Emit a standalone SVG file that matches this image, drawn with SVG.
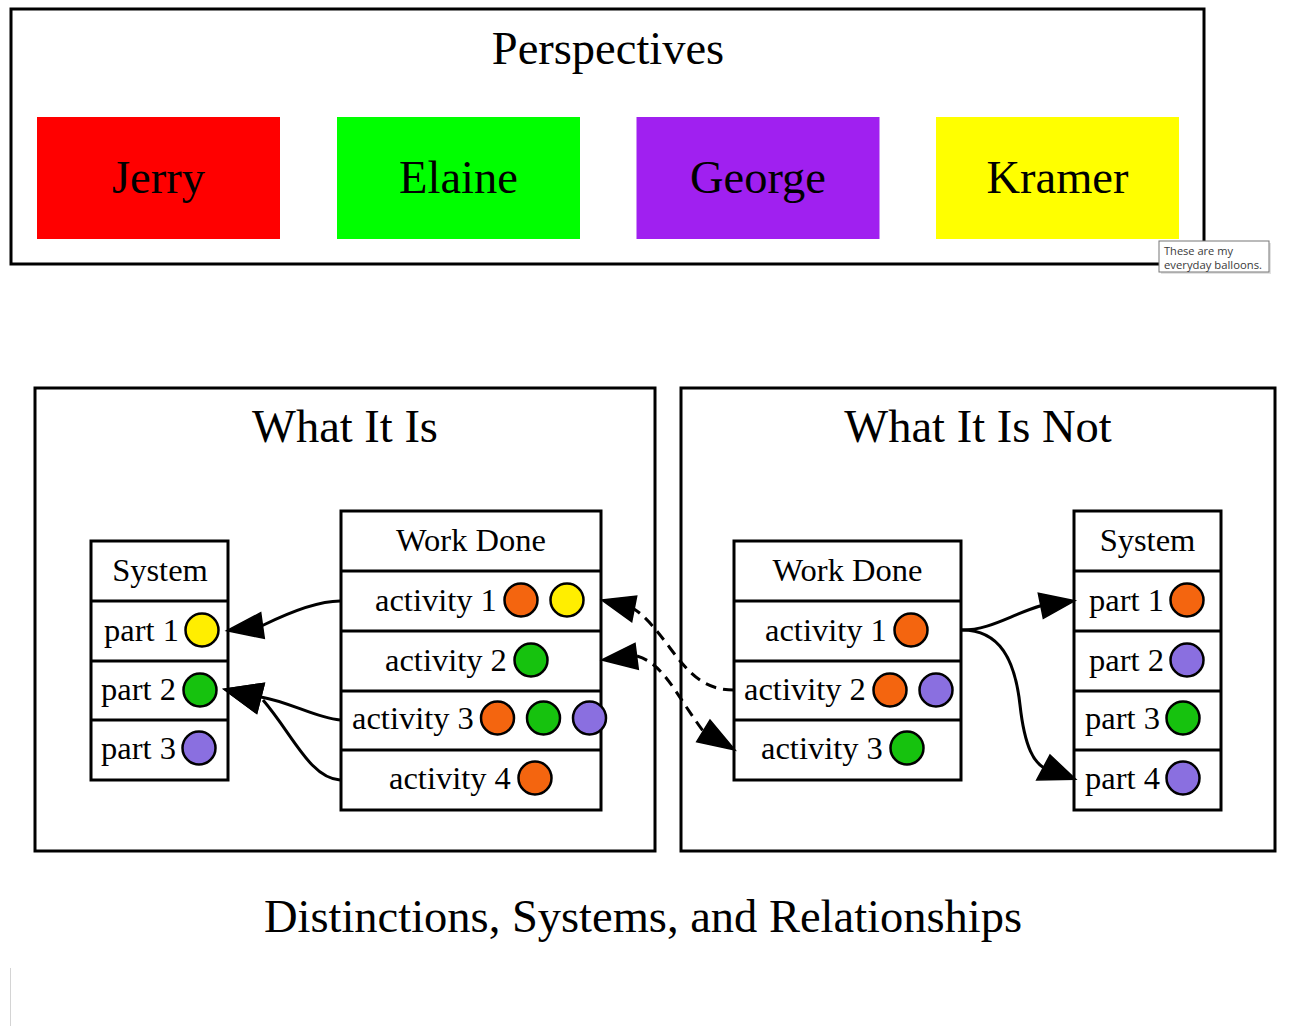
<svg xmlns="http://www.w3.org/2000/svg" width="1312" height="1026" viewBox="0 0 1312 1026">
<style>
.t{font-family:"Liberation Serif","Times New Roman",serif;fill:#000}
.big{font-size:46.5px;text-anchor:middle}
.cell{font-size:32.5px}
.hd{font-size:32.5px;text-anchor:middle}
.cl{fill:none;stroke:#000;stroke-width:3}
.tb{fill:#fff;stroke:#000;stroke-width:3}
.dv{stroke:#000;stroke-width:3}
.dot{stroke:#000;stroke-width:2.5}
.o{fill:#F4650F}.g{fill:#16C20E}.p{fill:#8A6FE0}.y{fill:#FFEE00}
.e{fill:none;stroke:#000;stroke-width:3}
.d{stroke-dasharray:11,7}
.ah{fill:#000;stroke:#000;stroke-width:1.5;stroke-linejoin:miter}
.tip{font-family:"Open Sans","Noto Sans","DejaVu Sans",sans-serif;font-size:10.5px;fill:#3a3a3a}
</style>
<rect width="1312" height="1026" fill="#fff"/>

<g id="cluster_perspectives">
<rect class="cl" x="11" y="9" width="1193" height="255"/>
<text class="t big" x="608" y="64">Perspectives</text>
</g>
<g id="jerry"><rect x="37" y="117" width="243" height="122" fill="#FF0000"/><text class="t big" x="158.5" y="193">Jerry</text></g>
<g id="elaine"><rect x="337" y="117" width="243" height="122" fill="#00FF00"/><text class="t big" x="458.5" y="193">Elaine</text></g>
<g id="george"><rect x="636.5" y="117" width="243" height="122" fill="#A020F0"/><text class="t big" x="758" y="193">George</text></g>
<g id="kramer"><rect x="936" y="117" width="243" height="122" fill="#FFFF00"/><text class="t big" x="1057.5" y="193">Kramer</text></g>

<g id="tooltip">
<rect x="1161" y="243" width="110" height="31" fill="#cfcfcf" opacity="0.6"/>
<rect x="1159" y="241" width="110" height="31" fill="#fff" stroke="#767676" stroke-width="1"/>
<text class="tip" x="1164" y="255" textLength="69" lengthAdjust="spacingAndGlyphs">These are my</text>
<text class="tip" x="1164" y="269" textLength="98" lengthAdjust="spacingAndGlyphs">everyday balloons.</text>
</g>

<g id="cluster_is">
<rect class="cl" x="35" y="388" width="620" height="463"/>
<text class="t big" x="345" y="442">What It Is</text>
</g>
<g id="cluster_isnot">
<rect class="cl" x="681" y="388" width="594" height="463"/>
<text class="t big" x="978" y="442">What It Is Not</text>
</g>

<g id="is_system">
<rect class="tb" x="91" y="541" width="137" height="239"/>
<line class="dv" x1="91" y1="601" x2="228" y2="601"/>
<line class="dv" x1="91" y1="661" x2="228" y2="661"/>
<line class="dv" x1="91" y1="720" x2="228" y2="720"/>
<text class="t hd" x="160" y="581">System</text>
<text class="t cell" x="104" y="641">part 1</text><circle class="dot y" cx="202" cy="630" r="16.5"/>
<text class="t cell" x="101" y="700">part 2</text><circle class="dot g" cx="200" cy="690" r="16.5"/>
<text class="t cell" x="101" y="759">part 3</text><circle class="dot p" cx="199" cy="748" r="16.5"/>
</g>

<g id="is_work">
<rect class="tb" x="341" y="511" width="260" height="299"/>
<line class="dv" x1="341" y1="571" x2="601" y2="571"/>
<line class="dv" x1="341" y1="631" x2="601" y2="631"/>
<line class="dv" x1="341" y1="691" x2="601" y2="691"/>
<line class="dv" x1="341" y1="750" x2="601" y2="750"/>
<text class="t hd" x="471" y="551">Work Done</text>
<text class="t cell" x="375" y="611">activity 1</text><circle class="dot o" cx="521" cy="600" r="16.5"/><circle class="dot y" cx="567" cy="600" r="16.5"/>
<text class="t cell" x="385" y="671">activity 2</text><circle class="dot g" cx="531" cy="660" r="16.5"/>
<text class="t cell" x="352" y="729">activity 3</text><circle class="dot o" cx="497.5" cy="718" r="16.5"/><circle class="dot g" cx="543.5" cy="718" r="16.5"/><circle class="dot p" cx="589.5" cy="718" r="16.5"/>
<text class="t cell" x="389" y="789">activity 4</text><circle class="dot o" cx="535" cy="778" r="16.5"/>
</g>

<g id="isnot_work">
<rect class="tb" x="734" y="541" width="227" height="239"/>
<line class="dv" x1="734" y1="601" x2="961" y2="601"/>
<line class="dv" x1="734" y1="661" x2="961" y2="661"/>
<line class="dv" x1="734" y1="720" x2="961" y2="720"/>
<text class="t hd" x="847.5" y="581">Work Done</text>
<text class="t cell" x="765" y="641">activity 1</text><circle class="dot o" cx="911" cy="630" r="16.5"/>
<text class="t cell" x="744" y="700">activity 2</text><circle class="dot o" cx="890" cy="690" r="16.5"/><circle class="dot p" cx="936" cy="690" r="16.5"/>
<text class="t cell" x="761" y="759">activity 3</text><circle class="dot g" cx="907" cy="748" r="16.5"/>
</g>

<g id="isnot_system">
<rect class="tb" x="1074" y="511" width="147" height="299"/>
<line class="dv" x1="1074" y1="571" x2="1221" y2="571"/>
<line class="dv" x1="1074" y1="631" x2="1221" y2="631"/>
<line class="dv" x1="1074" y1="691" x2="1221" y2="691"/>
<line class="dv" x1="1074" y1="750" x2="1221" y2="750"/>
<text class="t hd" x="1147.5" y="551">System</text>
<text class="t cell" x="1089" y="611">part 1</text><circle class="dot o" cx="1187" cy="600" r="16.5"/>
<text class="t cell" x="1089" y="671">part 2</text><circle class="dot p" cx="1187" cy="660" r="16.5"/>
<text class="t cell" x="1085" y="729">part 3</text><circle class="dot g" cx="1183" cy="718" r="16.5"/>
<text class="t cell" x="1085" y="789">part 4</text><circle class="dot p" cx="1183" cy="778" r="16.5"/>
</g>

<g id="edges">
<path class="e" d="M340,601 C318,601 290,612 262.5,625.5"/>
<polygon class="ah" points="226.7,630.7 260.7,612.7 264.3,638.3"/>
<path class="e" d="M340,720 C316,718 290,702 261,697"/>
<polygon class="ah" points="224,689.3 264.3,683.3 256.7,713.3"/>
<path class="e" d="M340,780 C310,778 293,735 263,700"/>
<polygon class="ah" points="224,689.3 264.3,683.3 256.7,713.3"/>
<path class="e" d="M962,630 C990,630 1010,615 1040.8,605.8"/>
<polygon class="ah" points="1075,600.7 1038.3,593.3 1043.3,618.3"/>
<path class="e" d="M962,630 C1000,630 1015,660 1020,705 C1025,750 1035,762 1043.3,767.5"/>
<polygon class="ah" points="1075.7,779.3 1036.7,780 1050,755"/>
<path class="e d" d="M734,690 C705,690 690,675 670,648 C655,628 645,616 634,609"/>
<polygon class="ah" points="601.7,600 636.7,596 631.7,621.7"/>
<path class="e d" d="M637,656 C650,660 660,668 675,690 C685,705 695,720 703,731"/>
<polygon class="ah" points="601.7,660 635,643.3 638.3,669.3"/>
<polygon class="ah" points="735,750 696.7,741.7 710,720"/>
</g>

<text class="t big" x="643" y="932">Distinctions, Systems, and Relationships</text>
<line x1="10.5" y1="968" x2="10.5" y2="1026" stroke="#d4d4d4" stroke-width="1"/>
</svg>
